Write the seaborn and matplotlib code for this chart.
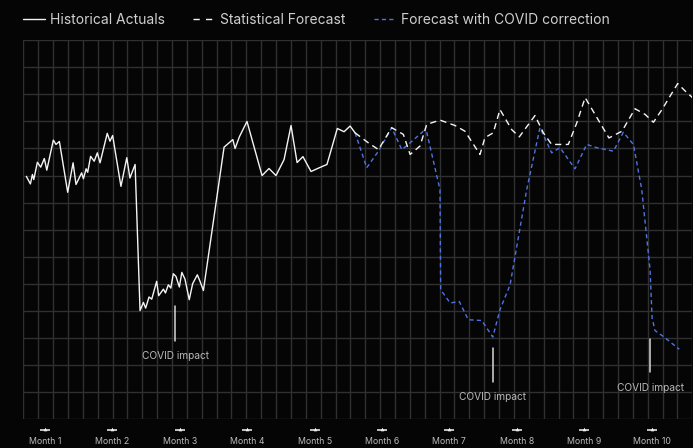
import matplotlib
matplotlib.use("Agg")
import matplotlib.pyplot as plt
import matplotlib.transforms as mtransforms
from matplotlib.lines import Line2D
import numpy as np
import pandas as pd
import seaborn as sns

# ---- data -------------------------------------------------------------
actual_day = [6.7, 8.5, 9.4, 10.0, 11.6, 13.1, 14.7, 15.8, 18.7, 19.9, 21.4, 25.1,
              27.5, 28.8, 31.3, 32.1, 33.3, 34.0, 35.3, 36.9, 38.3, 39.5, 42.7, 43.9,
              45.1, 48.8, 51.4, 52.8, 55.1, 57.3, 58.8, 59.8, 61.3, 62.5, 64.7, 65.6,
              67.7, 68.6, 69.9, 71.0, 72.1, 73.3, 74.8, 75.9, 77.3, 79.2, 80.7, 82.8,
              84.0, 85.5, 94.7, 98.6, 99.6, 101.5, 104.9, 111.6, 114.7, 117.8, 121.4,
              124.5, 127.2, 129.8, 133.4, 137.4, 140.5, 145.1, 148.1, 150.8, 153.0]
actual_val = [89.7, 86.9, 90.4, 88.5, 94.9, 93.1, 96.3, 92.0, 103.1, 101.5, 102.6, 83.8,
              94.7, 86.7, 91.0, 88.8, 92.5, 91.2, 97.1, 95.3, 98.4, 94.7, 105.6, 102.7,
              104.8, 86.0, 96.6, 89.1, 94.1, 40.1, 43.1, 41.0, 45.1, 44.3, 50.9, 45.6,
              48.0, 46.6, 49.6, 48.4, 53.7, 52.7, 48.8, 54.2, 51.7, 44.1, 50.0, 53.3,
              50.9, 47.5, 100.5, 103.3, 100.0, 104.3, 110.0, 90.0, 92.6, 90.0, 95.9,
              108.5, 94.8, 97.0, 91.5, 93.0, 94.1, 107.4, 106.2, 108.3, 105.8]

stat_day = [153.0, 158.9, 163.4, 169.3, 174.5, 177.5, 181.9, 184.9, 190.8, 197.5, 201.9,
            208.6, 210.8, 214.5, 217.5, 222.7, 226.1, 233.1, 236.8, 240.5, 247.9, 251.7,
            255.4, 266.0, 271.8, 277.6, 282.1, 285.8, 289.6, 296.6, 300.0, 303.6]
stat_val = [105.8, 102.1, 99.6, 107.7, 105.2, 97.8, 100.9, 108.9, 110.5, 108.5, 106.4,
            97.8, 104.0, 105.8, 114.4, 107.0, 104.3, 112.2, 105.8, 101.5, 101.5, 109.5,
            118.8, 103.9, 106.4, 114.7, 112.6, 109.7, 114.4, 124.0, 121.2, 118.5]

covid_day = [153.0, 158.2, 163.4, 169.3, 173.8, 176.7, 183.4, 184.9, 190.8, 191.1, 195.3,
             199.4, 203.4, 209.4, 214.3, 217.5, 222.0, 229.4, 235.3, 240.5, 244.2, 250.9,
             256.1, 260.6, 268.0, 272.4, 276.9, 280.6, 284.3, 285.2, 286.5, 290.2, 297.3]
covid_val = [105.8, 92.9, 99.0, 107.7, 99.6, 101.5, 106.4, 106.0, 84.8, 47.8, 42.9,
             43.4, 36.7, 36.4, 30.3, 40.4, 49.6, 84.8, 107.7, 98.4, 100.3, 92.5,
             101.5, 100.3, 99.0, 106.0, 101.5, 84.8, 55.2, 37.4, 32.7, 30.5, 25.8]

month_labels = [f"Month {i}" for i in range(1, 11)]
month_day = [15, 45, 75, 105, 135, 165, 195, 225, 255, 285]

impact_label = "COVID impact"
impact_day = [72.9, 214.3, 284.3]

series_labels = ["Historical Actuals", "Statistical Forecast", "Forecast with COVID correction"]

# ---- layout / style ---------------------------------------------------
BG = "#050505"
GRID = "#303030"
WHITE = "#f4f4f4"
BLUE = "#4f73e3"
TXT = "#cfcfcf"
TICKTXT = "#bababa"
LW = 1.0

# annotation geometry (value units): line bottom, line top, text centre
impact_geom = [(28.9, 41.6, 23.3), (13.8, 26.2, 8.3), (17.3, 29.6, 11.4)]

XLIM = (5.34, 303.1)
YLIM = (0, 140)

sns.set_theme(style="dark")
plt.rcParams["font.family"] = ["Inter", "DejaVu Sans"]

W, H = 693, 448
fig = plt.figure(figsize=(W / 100, H / 100), dpi=100, facecolor=BG)
ax = fig.add_axes([23.3 / W, (H - 419) / H, 669 / W, 378.7 / H])
ax.set_facecolor(BG)

actual_df = pd.DataFrame({"day": actual_day, "value": actual_val})
stat_df = pd.DataFrame({"day": stat_day, "value": stat_val})
covid_df = pd.DataFrame({"day": covid_day, "value": covid_val})

sns.lineplot(data=covid_df, x="day", y="value", ax=ax, color=BLUE, lw=LW,
             estimator=None, sort=False, zorder=3)
ax.lines[-1].set_dashes([3.0, 2.3])
sns.lineplot(data=stat_df, x="day", y="value", ax=ax, color=WHITE, lw=LW,
             estimator=None, sort=False, zorder=4)
ax.lines[-1].set_dashes([4.5, 3.2])
sns.lineplot(data=actual_df, x="day", y="value", ax=ax, color=WHITE, lw=LW,
             estimator=None, sort=False, zorder=5)

ax.set_xlim(*XLIM)
ax.set_ylim(*YLIM)
ax.set_xlabel("")
ax.set_ylabel("")

# grid: 45 columns x 14 rows
ax.set_xticks(np.linspace(XLIM[0], XLIM[1], 46), minor=True)
ax.set_yticks([])
ax.set_yticks(np.arange(YLIM[0], YLIM[1] + 1, 10), minor=True)
ax.grid(False)
ax.grid(which="minor", color=GRID, lw=1.0)
for s in ax.spines.values():
    s.set_visible(False)

ax.set_xticks(month_day)
ax.set_xticklabels(month_labels)
ax.tick_params(which="both", length=0)
ax.tick_params(axis="x", which="major", pad=12.8, labelsize=6.3, labelcolor=TICKTXT)

# small pointer glyphs above month labels
trans = mtransforms.blended_transform_factory(ax.transData, ax.transAxes)
ybar = (419 - 430.3) / 378.7
ytri = (419 - 428.6) / 378.7
ax.plot(month_day, [ybar] * len(month_day), ls="none", marker="_", ms=7.5, mew=1.1,
        color=WHITE, transform=trans, clip_on=False)
ax.plot(month_day, [ytri] * len(month_day), ls="none", marker="^", ms=2.6, mew=0,
        color=WHITE, transform=trans, clip_on=False)

# COVID impact annotations
for d, (y0, y1, yt) in zip(impact_day, impact_geom):
    ax.plot([d, d], [y0, y1], color="#d8d8d8", lw=1.1, zorder=6)
    ax.text(d, yt, impact_label, ha="center", va="center", fontsize=7.3, color=TICKTXT,
            zorder=6)

# legend
handles = [
    Line2D([], [], color=WHITE, lw=LW),
    Line2D([], [], color=WHITE, lw=LW, dashes=[4.5, 4.5]),
    Line2D([], [], color=BLUE, lw=LW, dashes=[3.0, 2.3]),
]
fs = 10
fs_px = fs * 100 / 72
fig.legend(handles, series_labels, loc="center left",
           bbox_to_anchor=(22.7 / W, 1 - 19.5 / H), ncol=3, frameon=False,
           fontsize=fs, labelcolor=TXT, handlelength=22 / fs_px,
           handletextpad=5.3 / fs_px, columnspacing=28 / fs_px,
           borderpad=0, borderaxespad=0)

fig.savefig("out.png", dpi=100, facecolor=BG)
